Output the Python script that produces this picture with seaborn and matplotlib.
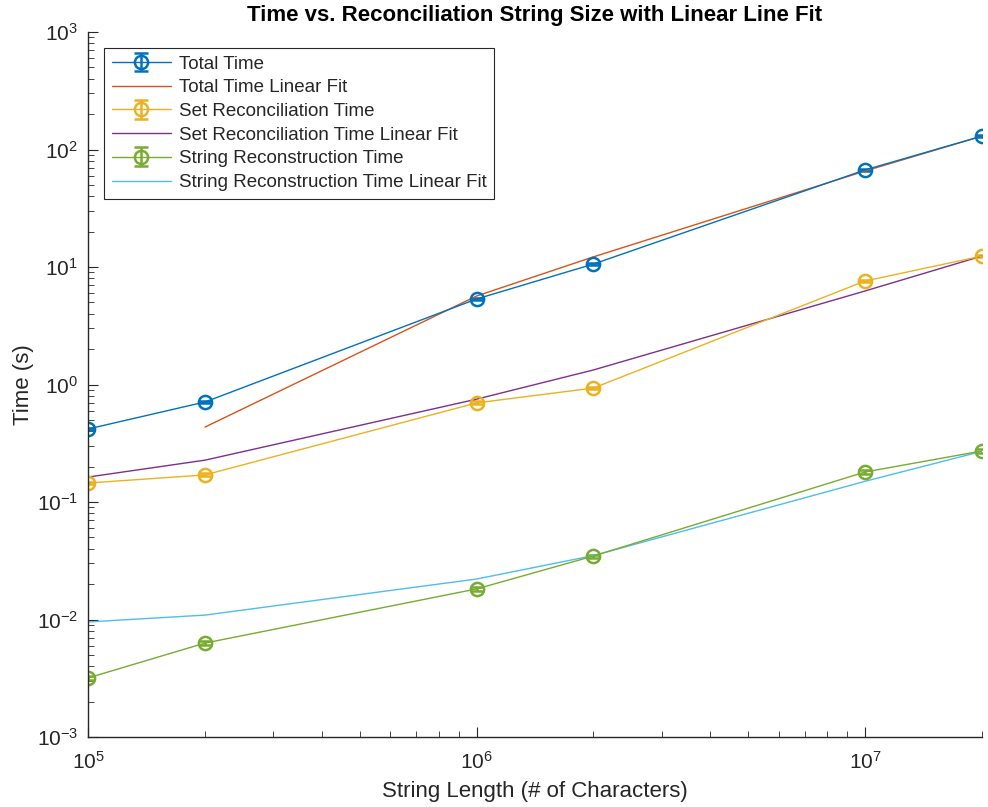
import numpy as np
import matplotlib
matplotlib.use("Agg")
import matplotlib.pyplot as plt
import seaborn as sns
import pandas as pd

# ---- data ----
string_length = [1e5, 2e5, 1e6, 2e6, 1e7, 2e7]

total_time = [0.418, 0.71, 5.34, 10.6, 67.0, 130.0]
total_err = [0.01, 0.015, 0.12, 0.2, 1.2, 2.5]
total_fit = [np.nan, 0.434, 5.66, 12.2, 65.6, 130.0]

set_time = [0.145, 0.170, 0.697, 0.933, 7.6, 12.4]
set_err = [0.004, 0.005, 0.02, 0.025, 0.2, 0.35]
set_fit = [0.163, 0.227, 0.75, 1.33, 6.25, 12.4]

str_time = [0.00318, 0.0063, 0.0182, 0.0347, 0.18, 0.272]
str_err = [0.00012, 0.0002, 0.0006, 0.001, 0.007, 0.012]
str_fit = [0.00953, 0.0109, 0.0221, 0.0350, 0.150, 0.270]

x_ticks = [1e5, 1e6, 1e7]
y_ticks = [1e-3, 1e-2, 1e-1, 1e0, 1e1, 1e2, 1e3]

labels = ["Total Time", "Total Time Linear Fit",
          "Set Reconciliation Time", "Set Reconciliation Time Linear Fit",
          "String Reconstruction Time", "String Reconstruction Time Linear Fit"]
colors = ["#0072BD", "#D95319", "#EDB120", "#7E2F8E", "#77AC30", "#4DBEEE"]

sns.set_theme(style="white")
plt.rcParams['font.family'] = ['Liberation Sans', 'DejaVu Sans']
plt.rcParams['mathtext.fontset'] = 'custom'
plt.rcParams['mathtext.rm'] = 'Liberation Sans'
plt.rcParams['axes.unicode_minus'] = False

fig = plt.figure(figsize=(9.88, 8.07), dpi=100)
ax = fig.add_axes([88/988, 1-737/807, (982-88)/988, (737-32)/807])

series = [(total_time, total_err, total_fit),
          (set_time, set_err, set_fit),
          (str_time, str_err, str_fit)]

for i, (vals, errs, fit) in enumerate(series):
    c_data = colors[2*i]
    c_fit = colors[2*i+1]
    ax.errorbar(string_length, vals, yerr=errs, color=c_data, marker='o',
                mfc='none', mec=c_data, ms=9.5, mew=1.8, lw=1.0,
                capsize=5, capthick=1.8, elinewidth=1.8, label=labels[2*i])
    df = pd.DataFrame({"x": string_length, "y": fit}).dropna()
    sns.lineplot(data=df, x="x", y="y", ax=ax, color=c_fit, lw=1.0,
                 label=labels[2*i+1], estimator=None, sort=False)

ax.set_xscale('log')
ax.set_yscale('log')
ax.set_xlim(1e5, 2e7)
ax.set_ylim(1e-3, 1e3)

for side in ['top', 'right']:
    ax.spines[side].set_visible(False)
for side in ['left', 'bottom']:
    ax.spines[side].set_color('#262626')
    ax.spines[side].set_linewidth(1.0)

ax.tick_params(which='both', direction='in', colors='#262626', labelsize=15,
               left=True, bottom=True)
ax.tick_params(which='major', length=7, width=0.8)
ax.tick_params(which='minor', length=4, width=0.6)
ax.tick_params(axis='x', which='major', pad=10)
ax.tick_params(axis='y', which='major', pad=7)

fmt = matplotlib.ticker.LogFormatterSciNotation(base=10)
ax.yaxis.set_major_locator(matplotlib.ticker.FixedLocator(y_ticks))
ax.yaxis.set_major_formatter(fmt)
ax.xaxis.set_major_locator(matplotlib.ticker.FixedLocator(x_ticks))
ax.xaxis.set_major_formatter(matplotlib.ticker.LogFormatterSciNotation(base=10))
ax.yaxis.set_minor_locator(matplotlib.ticker.LogLocator(base=10, subs=np.arange(2, 10), numticks=20))
ax.yaxis.set_minor_formatter(matplotlib.ticker.NullFormatter())
ax.xaxis.set_minor_locator(matplotlib.ticker.LogLocator(base=10, subs=np.arange(2, 10), numticks=20))
ax.xaxis.set_minor_formatter(matplotlib.ticker.NullFormatter())

ax.set_xlabel("String Length (# of Characters)", fontsize=16, color='#262626', labelpad=6)
ax.set_ylabel("Time (s)", fontsize=16, color='#262626', labelpad=2)
ax.set_title("Time vs. Reconciliation String Size with Linear Line Fit",
             fontsize=16, fontweight='bold', color='black', pad=8)

h, l = ax.get_legend_handles_labels()
order = [l.index(name) for name in labels]
leg = ax.legend([h[k] for k in order], [l[k] for k in order], loc='upper left',
                bbox_to_anchor=(16/894, 1-16/705), borderaxespad=0, fontsize=13.5,
                frameon=True, fancybox=False, edgecolor='#262626', framealpha=1,
                borderpad=0.4, labelspacing=0.35, handlelength=3.15, handletextpad=0.45)
leg.get_frame().set_linewidth(0.8)

fig.savefig("out.png", dpi=100)
